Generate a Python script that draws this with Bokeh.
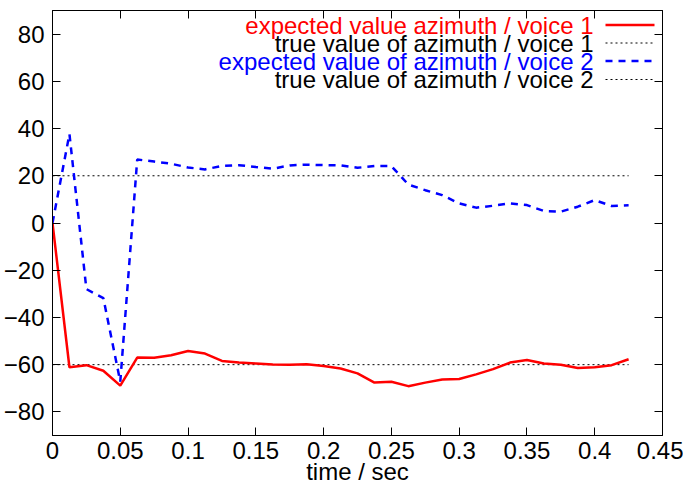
from bokeh.plotting import figure
from bokeh.models import Range1d, LinearAxis, FixedTicker, Label, Arrow
from bokeh.embed import file_html
from bokeh.resources import INLINE

# ---- data ----
time_sec = [0.0, 0.0125, 0.025, 0.0375, 0.05, 0.0625, 0.075, 0.0875, 0.1, 0.1125,
            0.125, 0.1375, 0.15, 0.1625, 0.175, 0.1875, 0.2, 0.2125, 0.225, 0.2375,
            0.25, 0.2625, 0.275, 0.2875, 0.3, 0.3125, 0.325, 0.3375, 0.35, 0.3625,
            0.375, 0.3875, 0.4, 0.4125, 0.425]
azimuth_voice1 = [0, -61.1, -60.2, -62.6, -68.9, -57.0, -57.1, -56.0, -54.2, -55.3,
                  -58.4, -59.1, -59.5, -59.9, -60.0, -59.8, -60.6, -61.6, -63.7, -67.6,
                  -67.2, -69.1, -67.6, -66.3, -66.1, -64.1, -61.9, -59.1, -58.0, -59.5,
                  -60.0, -61.4, -61.1, -60.2, -57.7]
azimuth_voice2 = [0, 37.7, -28.0, -31.8, -67.2, 26.9, 26.0, 25.1, 23.5, 22.7,
                  24.2, 24.5, 23.7, 23.0, 24.4, 24.7, 24.5, 24.4, 23.4, 24.1,
                  24.1, 16.3, 13.9, 11.8, 8.3, 6.5, 7.3, 8.3, 7.6, 5.1,
                  4.8, 6.9, 9.7, 7.2, 7.5]
true_voice1 = -60
true_voice2 = 20
true_time = [0.0, 0.425]

x_ticks = [0, 0.05, 0.1, 0.15, 0.2, 0.25, 0.3, 0.35, 0.4, 0.45]
x_tick_labels = ["0", "0.05", "0.1", "0.15", "0.2", "0.25", "0.3", "0.35", "0.4", "0.45"]
y_ticks = [-80, -60, -40, -20, 0, 20, 40, 60, 80]
x_axis_title = "time / sec"

legend_labels = ["expected value azimuth / voice 1",
                 "true value of azimuth / voice 1",
                 "expected value of azimuth / voice 2",
                 "true value of azimuth / voice 2"]

FONT = "Liberation Sans"
FS = "24px"
W, H = 683, 496
B_LEFT, B_RIGHT, B_TOP, B_BOTTOM = 45, 21, 10, 61
FRAME_H = H - B_TOP - B_BOTTOM

p = figure(width=W, height=H,
           x_range=Range1d(0, 0.45), y_range=Range1d(-90, 90),
           output_backend="svg", toolbar_location=None,
           min_border_left=B_LEFT, min_border_right=B_RIGHT,
           min_border_top=B_TOP, min_border_bottom=B_BOTTOM)
p.background_fill_color = "white"
p.border_fill_color = "white"
p.outline_line_color = "black"
p.outline_line_width = 1
p.xgrid.visible = False
p.ygrid.visible = False

def style_axis(ax, ticks, labels=True):
    ax.ticker = FixedTicker(ticks=ticks)
    ax.axis_line_color = "black"
    ax.major_tick_in = 8
    ax.major_tick_out = 0
    ax.major_tick_line_color = "black"
    ax.minor_tick_line_color = None
    ax.major_label_text_font = FONT
    if labels:
        ax.major_label_text_font_size = FS
        ax.major_label_text_color = "black"
    else:
        ax.major_label_text_font_size = "1px"
        ax.major_label_text_color = None
        ax.major_label_standoff = 0

style_axis(p.xaxis[0], x_ticks)
p.xaxis[0].major_label_overrides = {t: s for t, s in zip(x_ticks, x_tick_labels)}
p.xaxis[0].major_label_standoff = 6
p.xaxis[0].axis_label = x_axis_title
p.xaxis[0].axis_label_text_font = FONT
p.xaxis[0].axis_label_text_font_size = FS
p.xaxis[0].axis_label_text_font_style = "normal"
p.xaxis[0].axis_label_text_color = "black"
p.xaxis[0].axis_label_standoff = -4
style_axis(p.yaxis[0], y_ticks)
p.yaxis[0].major_label_standoff = 8

top_ax = LinearAxis()
style_axis(top_ax, x_ticks, labels=False)
p.add_layout(top_ax, "above")
right_ax = LinearAxis()
style_axis(right_ax, y_ticks, labels=False)
p.add_layout(right_ax, "right")

# ---- data lines ----
p.line(true_time, [true_voice1] * len(true_time), line_color="black", line_width=1, line_dash="2 3")
p.line(true_time, [true_voice2] * len(true_time), line_color="black", line_width=1, line_dash="2 3")
p.line(time_sec, azimuth_voice2, line_color="blue", line_width=2.5, line_dash="7 6")
p.line(time_sec, azimuth_voice1, line_color="red", line_width=2.5)

# ---- custom gnuplot-style legend (screen units, relative to frame) ----
styles = [("red", 2.5, "solid", "red"),
          ("black", 1, "2 3", "black"),
          ("blue", 2.5, "7 6", "blue"),
          ("black", 1, "2 3", "black")]
row_offsets = [14.5, 32.5, 50.5, 69]
for lab, (lc, lw, dash, tc), off in zip(legend_labels, styles, row_offsets):
    yy = FRAME_H - off
    p.add_layout(Label(x=541, y=yy, x_units="screen", y_units="screen", text=lab,
                       text_align="right", text_baseline="middle",
                       text_font=FONT, text_font_size=FS, text_color=tc))
    p.add_layout(Arrow(x_start=553, y_start=yy, x_end=602, y_end=yy,
                       start_units="screen", end_units="screen", start=None, end=None,
                       line_color=lc, line_width=lw, line_dash=dash))

open("out.html", "w").write(file_html(p, INLINE))
